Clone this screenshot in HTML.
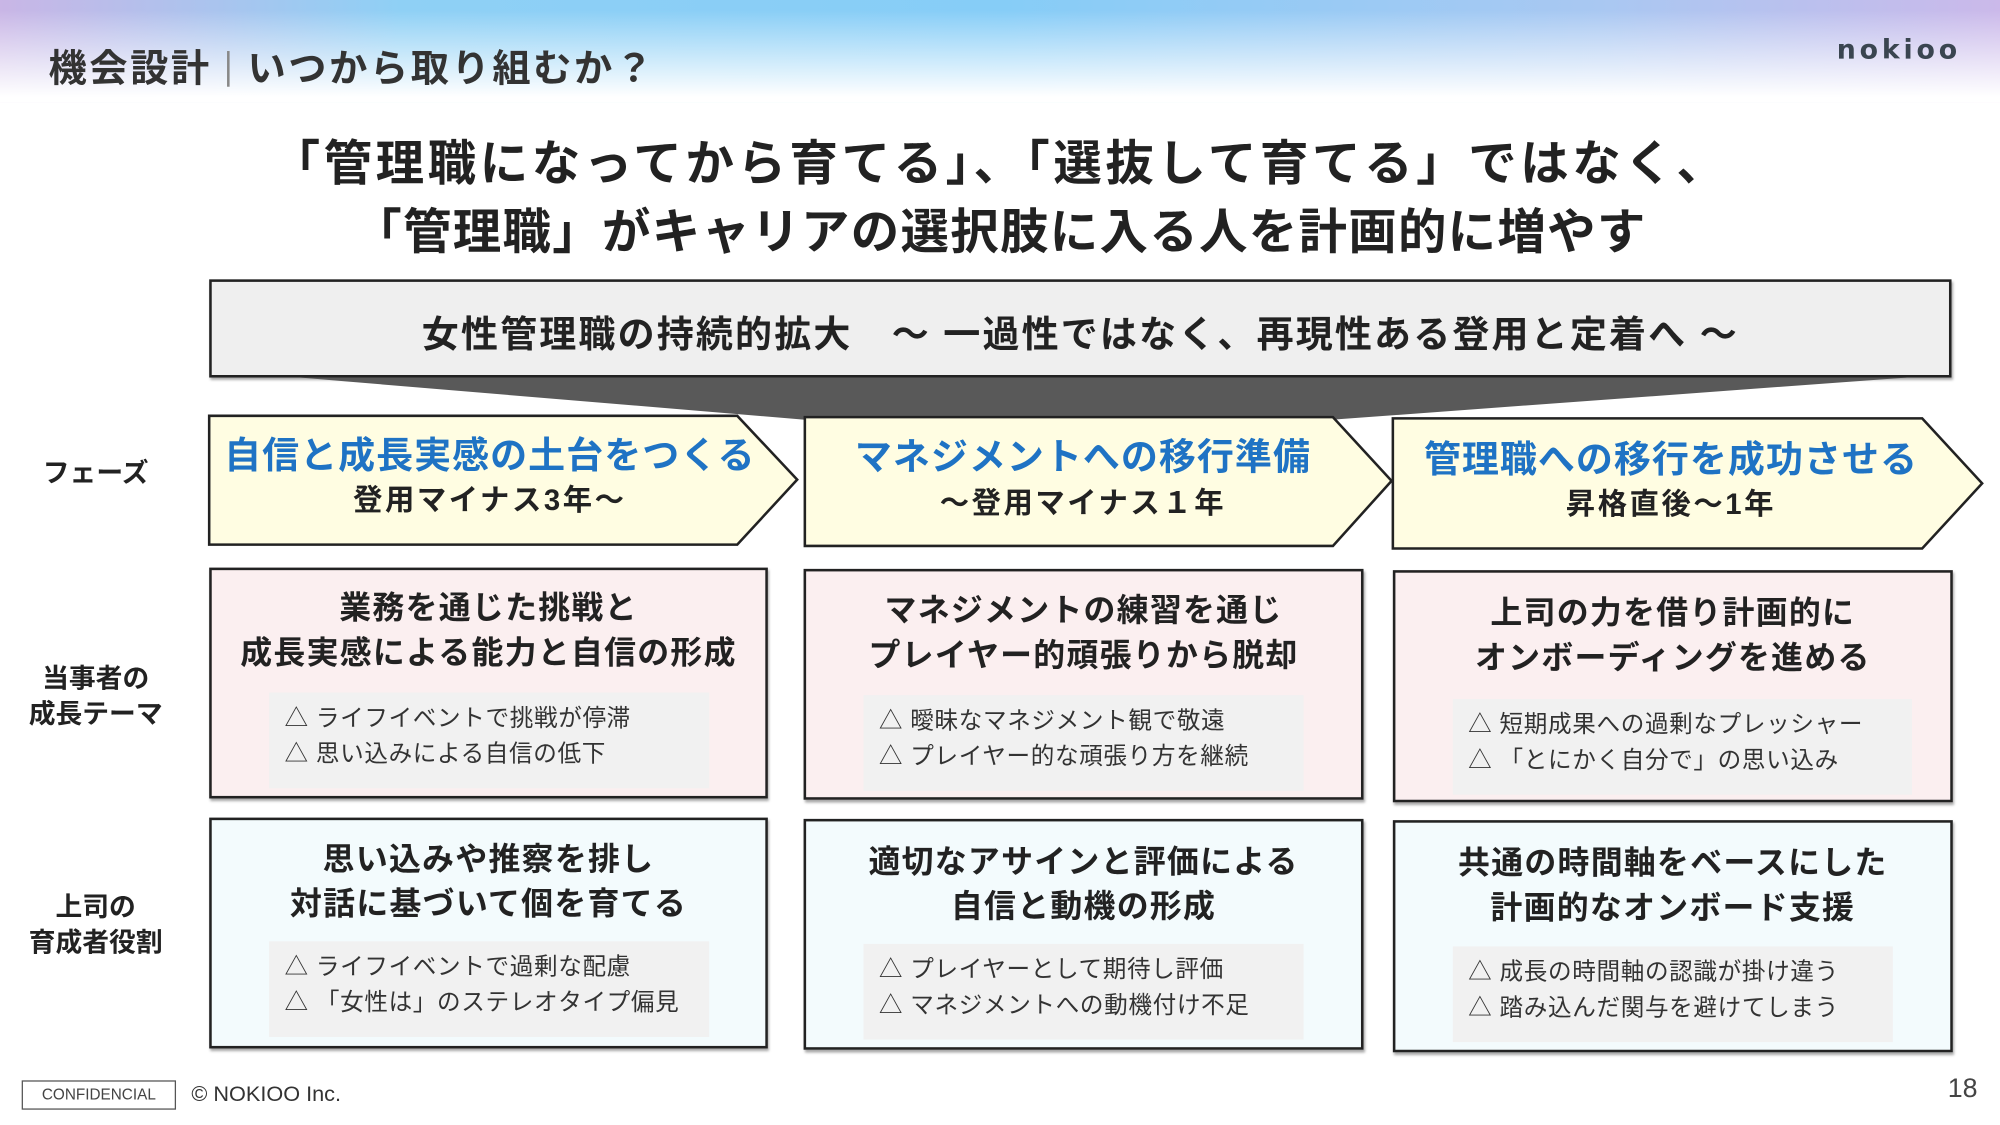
<!DOCTYPE html>
<html><head><meta charset="utf-8">
<style>
html,body{margin:0;padding:0;width:2000px;height:1125px;overflow:hidden;background:#fff}
#w{position:absolute;left:0;top:0;width:1568px;height:882px;transform:scale(1.27551);transform-origin:0 0;font-family:"Liberation Sans","Noto Sans CJK JP",sans-serif;color:#222}
.a{position:absolute}
.hdr{left:0;top:0;width:1568px;height:80px;background:linear-gradient(180deg,rgba(255,255,255,0) 0%,rgba(255,255,255,0) 10%,#fff 95%),linear-gradient(90deg,#c9b6e6 0%,#8fd0f5 20%,#86cdf7 50%,#a9c8f2 80%,#cbb9ea 100%)}
.c{text-align:center;white-space:nowrap}
.b{font-weight:bold}
.box{position:absolute;border:2px solid #222;box-sizing:border-box;box-shadow:1px 2px 2px rgba(0,0,0,.35)}
.h{position:absolute;left:0;right:0;text-align:center;font-size:25px;font-weight:bold;line-height:35px;color:#222;letter-spacing:1px}
.in{position:absolute;background:#f1f1f1;font-size:18.5px;line-height:28px;color:#333;padding:6px 12px;box-sizing:border-box;white-space:nowrap;letter-spacing:.5px}
.lab{position:absolute;left:0;width:150px;text-align:center;font-size:21px;font-weight:bold;line-height:28px}
.pt{font-size:29px;color:#1f73c4;line-height:36px;letter-spacing:.8px}
.ps{font-size:23px;line-height:30px;letter-spacing:2px}
</style></head><body><div id="w">
<div class="a hdr"></div>
<div class="a b" style="left:38px;top:29px;font-size:30px;color:#333;white-space:nowrap;letter-spacing:2px">機会設計<span style="display:inline-block;width:2px;height:28px;background:#888;vertical-align:-4px;margin:0 14px 0 12px"></span>いつから取り組むか？</div>
<div class="a b" style="left:1440px;top:27px;font-size:21px;color:#3a4550;letter-spacing:3px;font-family:'DejaVu Sans',sans-serif">nokioo</div>

<div class="a c b" style="left:0;width:1568px;top:102px;font-size:38px;line-height:54px;letter-spacing:1px"><span style="letter-spacing:2.8px">「管理職になってから育てる」、「選抜して育てる」ではなく、</span><br>「管理職」がキャリアの選択肢に入る人を計画的に増やす</div>

<div class="box" style="left:164px;top:219px;width:1366px;height:77px;background:#efefef;"></div>
<div class="a c b" style="left:164px;width:1366px;top:243px;font-size:29px;line-height:40px;letter-spacing:1.7px">女性管理職の持続的拡大　～ 一過性ではなく、再現性ある登用と定着へ ～</div>

<svg class="a" style="left:0;top:0" width="1568" height="882">
<polygon points="235,296 1495,296 1045,329 630,329" fill="#595959"/>
<g stroke="#222" stroke-width="2" fill="#fffde2">
<polygon points="164,326 578,326 625,376 578,427 164,427"/>
<polygon points="631,327 1045,327 1091,377 1045,428 631,428"/>
<polygon points="1092,328 1507,328 1554,379 1507,430 1092,430"/>
</g>
</svg>
<div class="a c b pt" style="left:164px;width:440px;top:340px">自信と成長実感の土台をつくる</div>
<div class="a c b ps" style="left:164px;width:440px;top:377px">登用マイナス3年～</div>
<div class="a c b pt" style="left:631px;width:436px;top:341px">マネジメントへの移行準備</div>
<div class="a c b ps" style="left:631px;width:436px;top:379px">～登用マイナス１年</div>
<div class="a c b pt" style="left:1092px;width:436px;top:343px">管理職への移行を成功させる</div>
<div class="a c b ps" style="left:1092px;width:436px;top:380px">昇格直後～1年</div>

<div class="lab" style="top:358px">フェーズ</div>
<div class="lab" style="top:519px">当事者の<br>成長テーマ</div>
<div class="lab" style="top:698px">上司の<br>育成者役割</div>

<div class="box" style="left:164px;top:445px;width:438px;height:181px;background:#fbeff0"><div class="h" style="top:13px">業務を通じた挑戦と<br>成長実感による能力と自信の形成</div><div class="in" style="left:45px;top:96px;width:345px;height:75px">△ ライフイベントで挑戦が停滞<br>△ 思い込みによる自信の低下</div></div>
<div class="box" style="left:630px;top:446px;width:439px;height:181px;background:#fbeff0"><div class="h" style="top:14px">マネジメントの練習を通じ<br>プレイヤー的頑張りから脱却</div><div class="in" style="left:45px;top:97px;width:345px;height:75px">△ 曖昧なマネジメント観で敬遠<br>△ プレイヤー的な頑張り方を継続</div></div>
<div class="box" style="left:1092px;top:447px;width:439px;height:182px;background:#fbeff0"><div class="h" style="top:15px">上司の力を借り計画的に<br>オンボーディングを進める</div><div class="in" style="left:45px;top:99px;width:360px;height:75px">△ 短期成果への過剰なプレッシャー<br>△ 「とにかく自分で」の思い込み</div></div>

<div class="box" style="left:164px;top:641px;width:438px;height:181px;background:#f3fbfd"><div class="h" style="top:14px">思い込みや推察を排し<br>対話に基づいて個を育てる</div><div class="in" style="left:45px;top:95px;width:345px;height:75px">△ ライフイベントで過剰な配慮<br>△ 「女性は」のステレオタイプ偏見</div></div>
<div class="box" style="left:630px;top:642px;width:439px;height:181px;background:#f3fbfd"><div class="h" style="top:15px">適切なアサインと評価による<br>自信と動機の形成</div><div class="in" style="left:45px;top:96px;width:345px;height:75px">△ プレイヤーとして期待し評価<br>△ マネジメントへの動機付け不足</div></div>
<div class="box" style="left:1092px;top:643px;width:439px;height:182px;background:#f3fbfd"><div class="h" style="top:15px">共通の時間軸をベースにした<br>計画的なオンボード支援</div><div class="in" style="left:45px;top:97px;width:345px;height:75px">△ 成長の時間軸の認識が掛け違う<br>△ 踏み込んだ関与を避けてしまう</div></div>

<div class="a" style="left:17px;top:847px;width:121px;height:23px;border:1px solid #555;box-sizing:border-box;font-size:12px;line-height:21px;text-align:center;color:#444">CONFIDENCIAL</div>
<div class="a" style="left:150px;top:848px;font-size:17px;color:#333;white-space:nowrap">© NOKIOO Inc.</div>
<div class="a" style="left:1527px;top:842px;font-size:21px;color:#444">18</div>
</div></body></html>
